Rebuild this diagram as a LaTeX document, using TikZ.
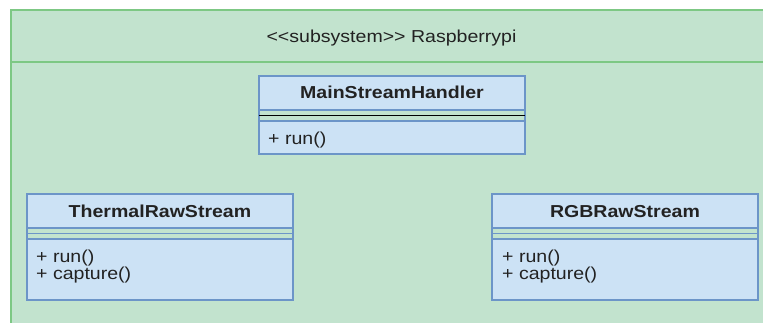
\documentclass[tikz,border=0pt]{standalone}
\usepackage{fontspec}
\setmainfont{Liberation Sans}
\usepackage{graphicx}
\definecolor{pkgfill}{RGB}{194,227,206}
\definecolor{pkgline}{RGB}{125,200,132}
\definecolor{clsfill}{RGB}{204,226,245}
\definecolor{clsline}{RGB}{108,149,200}
\definecolor{ink}{RGB}{34,34,34}
% slightly widened glyphs
\newcommand\wide[1]{\scalebox{1.13}[1]{#1}}
\tikzset{
  pkgframe/.style={draw=pkgline, fill=pkgfill, line width=1.4pt},
  clsbox/.style={draw=clsline, fill=clsfill, line width=1.3pt},
  clssep/.style={draw=clsline, line width=1.3pt},
  txt/.style={inner sep=0pt, text=ink, font=\fontsize{17.3}{17.3}\selectfont},
  ctitle/.style={txt, anchor=base, font=\fontsize{17.3}{17.3}\selectfont\bfseries},
  oper/.style={txt, anchor=base west},
}
\begin{document}
\begin{tikzpicture}[x=1pt, y=-1pt]
\useasboundingbox (0,0) rectangle (763,322);
\fill[white] (0,0) rectangle (763,322);

% subsystem package
\draw[pkgframe] (11,10) rectangle (790,345);
\draw[pkgline, line width=1.4pt] (11,62) -- (790,62);
\node[txt, anchor=base] (pkgname) at (391.5,42.7) {\wide{<\kern0pt<subsystem>\kern0pt> Raspberrypi}};

% MainStreamHandler
\draw[clsbox] (259,76) rectangle (525,110);
\draw[clssep] (259,110) rectangle (525,121);
\draw[black, line width=1.5pt] (259,115.5) -- (525,115.5);
\draw[clsbox] (259,121) rectangle (525,154);
\node[ctitle] (mainName) at (392,98.3) {\wide{MainStreamHandler}};
\node[oper] (mainRun) at (268,144.5) {\wide{+ run()}};

% ThermalRawStream
\draw[clsbox] (27,194) rectangle (293,228);
\draw[clssep] (27,228) rectangle (293,239);
\draw[clssep] (27,233.5) -- (293,233.5);
\draw[clsbox] (27,239) rectangle (293,300);
\node[ctitle] (thermName) at (160,217) {\wide{ThermalRawStream}};
\node[oper] (thermRun) at (36,262) {\wide{+ run()}};
\node[oper] (thermCap) at (36,279.5) {\wide{+ capture()}};

% RGBRawStream
\draw[clsbox] (492,194) rectangle (758,228);
\draw[clssep] (492,228) rectangle (758,239);
\draw[clssep] (492,233.5) -- (758,233.5);
\draw[clsbox] (492,239) rectangle (758,300);
\node[ctitle] (rgbName) at (625,217) {\wide{RGBRawStream}};
\node[oper] (rgbRun) at (502,262) {\wide{+ run()}};
\node[oper] (rgbCap) at (502,279.5) {\wide{+ capture()}};
\end{tikzpicture}
\end{document}
